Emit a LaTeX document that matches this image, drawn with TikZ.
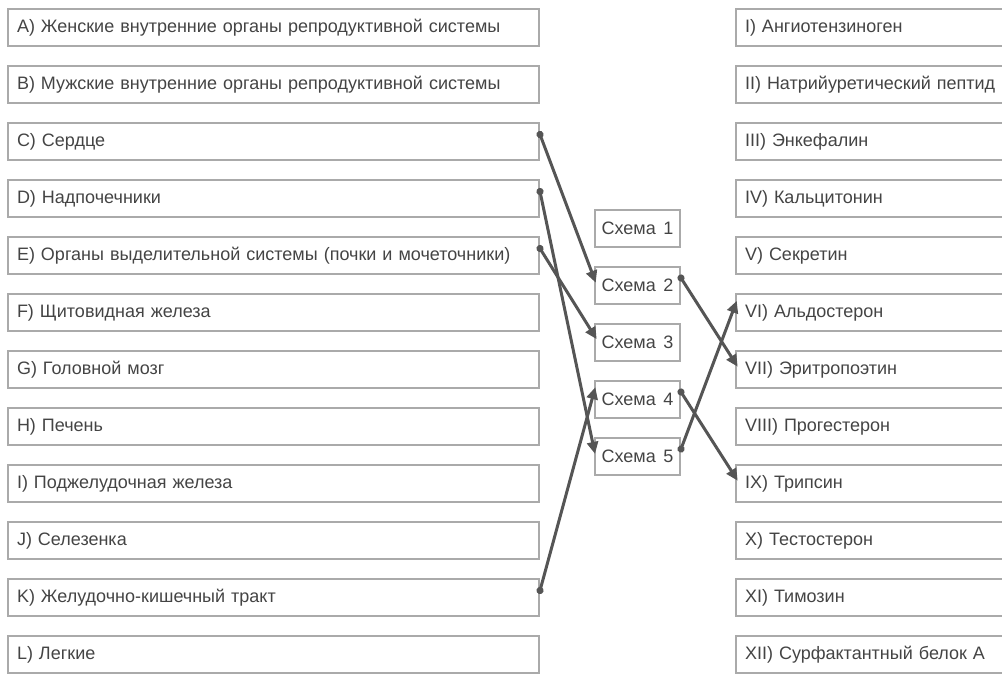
\documentclass[tikz,border=0pt]{standalone}
\usepackage{fontspec}
\setmainfont{Liberation Sans}[WordSpace=1.5]
\usetikzlibrary{arrows.meta,positioning}
\definecolor{boxgray}{HTML}{AAAAAA}
\definecolor{linkgray}{HTML}{555555}
\definecolor{textgray}{HTML}{444444}

\begin{document}
\begin{tikzpicture}[
  x=1pt, y=-1pt,
  font=\fontsize{18}{20}\selectfont,
  entry/.style={draw=boxgray, line width=2pt, text=textgray, minimum height=37pt, text width=513pt, inner xsep=9pt, inner ysep=0pt, align=left},
  schema/.style={draw=boxgray, line width=2pt, text=textgray, minimum width=85pt, minimum height=37pt, inner sep=0pt},
  link/.style={draw=linkgray, line width=3pt, {Circle[length=7pt]}-{Triangle[length=12pt, width=11pt]}, shorten <=-3.5pt, shorten >=-5pt}
]
\useasboundingbox (0,0) rectangle (1002,673);

% organs
\node[entry, anchor=north west] (a) at (7,8) {A) Женские внутренние органы репродуктивной системы};
\node[entry, below=18pt of a] (b) {B) Мужские внутренние органы репродуктивной системы};
\node[entry, below=18pt of b] (c) {C) Сердце};
\node[entry, below=18pt of c] (d) {D) Надпочечники};
\node[entry, below=18pt of d] (e) {E) Органы выделительной системы (почки и мочеточники)};
\node[entry, below=18pt of e] (f) {F) Щитовидная железа};
\node[entry, below=18pt of f] (g) {G) Головной мозг};
\node[entry, below=18pt of g] (h) {H) Печень};
\node[entry, below=18pt of h] (i) {I) Поджелудочная железа};
\node[entry, below=18pt of i] (j) {J) Селезенка};
\node[entry, below=18pt of j] (k) {K) Желудочно-кишечный тракт};
\node[entry, below=18pt of k] (l) {L) Легкие};

% hormones
\node[entry, right=195pt of a] (h1) {I) Ангиотензиноген};
\node[entry, right=195pt of b] (h2) {II) Натрийуретический пептид};
\node[entry, right=195pt of c] (h3) {III) Энкефалин};
\node[entry, right=195pt of d] (h4) {IV) Кальцитонин};
\node[entry, right=195pt of e] (h5) {V) Секретин};
\node[entry, right=195pt of f] (h6) {VI) Альдостерон};
\node[entry, right=195pt of g] (h7) {VII) Эритропоэтин};
\node[entry, right=195pt of h] (h8) {VIII) Прогестерон};
\node[entry, right=195pt of i] (h9) {IX) Трипсин};
\node[entry, right=195pt of j] (h10) {X) Тестостерон};
\node[entry, right=195pt of k] (h11) {XI) Тимозин};
\node[entry, right=195pt of l] (h12) {XII) Сурфактантный белок A};

% schemes
\node[schema] (s1) at (637.5,228) {Схема 1};
\node[schema, below=18pt of s1] (s2) {Схема 2};
\node[schema, below=18pt of s2] (s3) {Схема 3};
\node[schema, below=18pt of s3] (s4) {Схема 4};
\node[schema, below=18pt of s4] (s5) {Схема 5};

\draw[link] ([yshift=7pt]c.east) -- ([yshift=7pt]s2.west);
\draw[link] ([yshift=7pt]d.east) -- ([yshift=7pt]s5.west);
\draw[link] ([yshift=7pt]e.east) -- ([yshift=7pt]s3.west);
\draw[link] ([yshift=7pt]k.east) -- ([yshift=7pt]s4.west);
\draw[link] ([yshift=7pt]s2.east) -- ([yshift=7pt]h7.west);
\draw[link] ([yshift=7pt]s4.east) -- ([yshift=7pt]h9.west);
\draw[link] ([yshift=7pt]s5.east) -- ([yshift=7pt]h6.west);
\end{tikzpicture}
\end{document}
